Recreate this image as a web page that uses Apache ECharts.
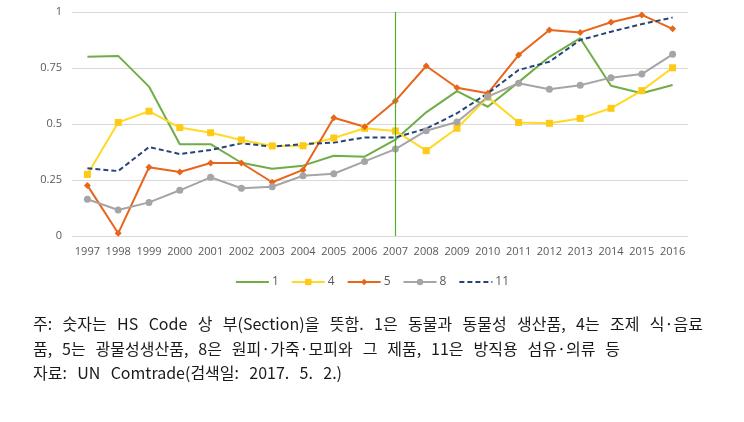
<!DOCTYPE html>
<html>
<head>
<meta charset="utf-8">
<script src="https://cdn.jsdelivr.net/npm/echarts@6/dist/echarts.min.js"></script>
<style>
html,body{margin:0;padding:0;background:#fff;}
#chart{width:744px;height:422px;}
</style>
</head>
<body>
<div id="chart"></div>
<script>
const years = ['1997','1998','1999','2000','2001','2002','2003','2004','2005','2006','2007','2008','2009','2010','2011','2012','2013','2014','2015','2016'];
const yTicks = [0, 0.25, 0.5, 0.75, 1];
const s1  = [0.80,0.804,0.667,0.41,0.41,0.327,0.30,0.314,0.358,0.354,0.43,0.552,0.647,0.577,0.687,0.80,0.883,0.671,0.637,0.674];
const s4  = [0.275,0.507,0.557,0.484,0.461,0.429,0.402,0.403,0.4375,0.481,0.469,0.381,0.481,0.62,0.507,0.503,0.525,0.57,0.649,0.751];
const s5  = [0.226,0.012,0.307,0.286,0.326,0.326,0.24,0.295,0.528,0.488,0.603,0.759,0.662,0.637,0.808,0.92,0.909,0.954,0.987,0.925];
const s8  = [0.164,0.116,0.15,0.204,0.262,0.213,0.22,0.269,0.278,0.333,0.388,0.47,0.509,0.622,0.682,0.655,0.673,0.707,0.723,0.811];
const s11 = [0.302,0.29,0.397,0.366,0.384,0.414,0.399,0.41,0.417,0.44,0.44,0.479,0.548,0.637,0.741,0.778,0.875,0.912,0.946,0.975];
const seriesNames = ['1','4','5','8','11'];
const markYear = '2007';
const noteLines = [
  '주: 숫자는 HS Code 상 부(Section)을 뜻함. 1은 동물과 동물성 생산품, 4는 조제 식·음료',
  '품, 5는 광물성생산품, 8은 원피·가죽·모피와 그 제품, 11은 방직용 섬유·의류 등',
  '자료: UN Comtrade(검색일: 2017. 5. 2.)'
];

const noteFont = '16px "Noto Sans CJK KR"';
const noteLayout = [
  {x: 33, y: 324, right: 703},
  {x: 33, y: 349, right: 620},
  {x: 33, y: 373, right: 342}
];
const mctx = document.createElement('canvas').getContext('2d');
mctx.font = noteFont;
const graphics = [];
noteLines.forEach((line, i) => {
  const L = noteLayout[i];
  const words = line.split(' ');
  const widths = words.map(w => mctx.measureText(w).width);
  const total = widths.reduce((a,b)=>a+b,0);
  let gap = words.length > 1 ? (L.right - L.x - total) / (words.length - 1) : 0;
  gap = Math.max(4, Math.min(gap, 14));
  let cx = L.x;
  words.forEach((w, j) => {
    graphics.push({
      type: 'text', x: cx, y: L.y,
      style: {text: w, font: noteFont, fill: '#1a1a1a', textVerticalAlign: 'middle'}
    });
    cx += widths[j] + gap;
  });
});

const chart = echarts.init(document.getElementById('chart'), null, {renderer: 'canvas'});
const axisLabelStyle = {color: '#595959', fontSize: 11, fontFamily: '"Open Sans", "DejaVu Sans", sans-serif'};
const hiddenSym = {color: 'rgba(0,0,0,0)', borderWidth: 0, opacity: 0};
chart.setOption({
  animation: false,
  backgroundColor: '#fff',
  grid: {left: 72, right: 56, top: 12, bottom: 186, containLabel: false},
  legend: {
    data: [
      {name: seriesNames[0], itemStyle: hiddenSym},
      {name: seriesNames[1]},
      {name: seriesNames[2]},
      {name: seriesNames[3]},
      {name: seriesNames[4], itemStyle: hiddenSym}
    ],
    top: 271,
    left: 'center',
    itemWidth: 33,
    itemHeight: 8,
    itemGap: 12,
    textStyle: {color: '#595959', fontSize: 12, fontFamily: '"Open Sans", "DejaVu Sans", sans-serif', padding: [0,0,0,-2]}
  },
  xAxis: {
    type: 'category',
    data: years,
    boundaryGap: true,
    axisLine: {show: true, lineStyle: {color: '#d9d9d9'}},
    axisTick: {show: false},
    axisLabel: Object.assign({margin: 10, interval: 0}, axisLabelStyle)
  },
  yAxis: {
    type: 'value',
    min: yTicks[0],
    max: yTicks[yTicks.length-1],
    interval: 0.25,
    axisLine: {show: false},
    axisTick: {show: false},
    splitLine: {lineStyle: {color: '#d9d9d9'}},
    axisLabel: Object.assign({margin: 10, formatter: v => String(v)}, axisLabelStyle)
  },
  series: [
    {name: seriesNames[0], type: 'line', data: s1, symbol: 'none', showSymbol: false,
     lineStyle: {color: '#70ad47', width: 2}, itemStyle: {color: '#70ad47'},
     markLine: {silent: true, symbol: ['none','none'], label: {show: false},
       lineStyle: {color: '#4fae2a', width: 1.2, type: 'solid', opacity: 1},
       emphasis: {disabled: true},
       data: [{xAxis: markYear}]}},
    {name: seriesNames[1], type: 'line', data: s4, symbol: 'rect', symbolSize: 7,
     lineStyle: {color: '#ffd924', width: 2}, itemStyle: {color: '#ffc917'}},
    {name: seriesNames[2], type: 'line', data: s5, symbol: 'diamond', symbolSize: 7,
     lineStyle: {color: '#e8651c', width: 2}, itemStyle: {color: '#e8651c'}},
    {name: seriesNames[3], type: 'line', data: s8, symbol: 'circle', symbolSize: 7,
     lineStyle: {color: '#a5a5a5', width: 2}, itemStyle: {color: '#a5a5a5'}},
    {name: seriesNames[4], type: 'line', data: s11, symbol: 'none', showSymbol: false,
     lineStyle: {color: '#264478', width: 2, type: [5, 3]}, itemStyle: {color: '#264478'}}
  ],
  graphic: graphics
});
</script>
</body>
</html>
